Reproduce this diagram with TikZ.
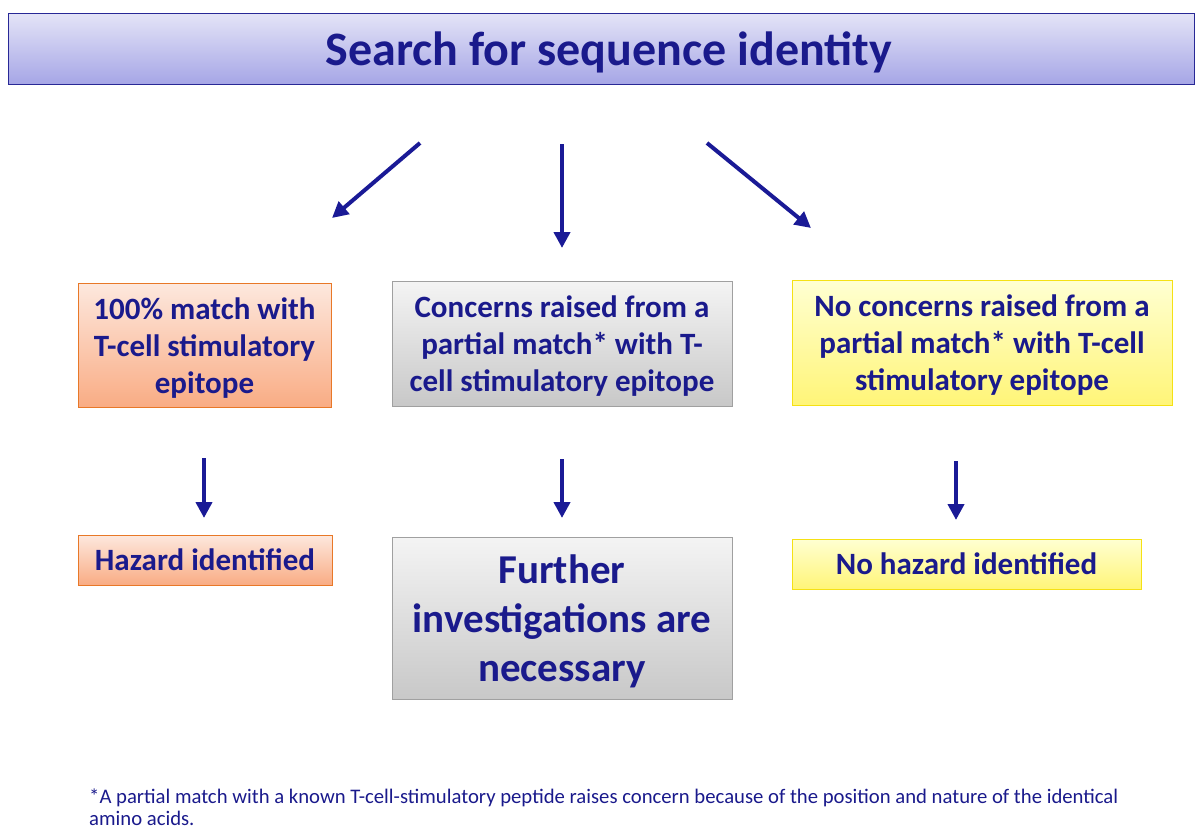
\documentclass[tikz,border=0pt]{standalone}
\usepackage{fontspec}
\setmainfont{Carlito}
\definecolor{txtblue}{RGB}{26,26,140}
\definecolor{arrblue}{RGB}{26,26,150}
\definecolor{titletop}{RGB}{228,228,247}
\definecolor{titlebot}{RGB}{166,166,230}
\definecolor{titleborder}{RGB}{40,40,150}
\definecolor{ortop}{RGB}{253,232,222}
\definecolor{orbot}{RGB}{249,172,132}
\definecolor{orborder}{RGB}{232,120,40}
\definecolor{grtop}{RGB}{244,244,244}
\definecolor{grbot}{RGB}{200,200,200}
\definecolor{grborder}{RGB}{160,160,160}
\definecolor{yetop}{RGB}{255,255,210}
\definecolor{yebot}{RGB}{255,245,120}
\definecolor{yeborder}{RGB}{245,225,20}
\newcommand{\dn}[1]{\raisebox{-3pt}[\height][\depth]{#1}}
\tikzset{
  box/.style={rectangle, line width=1pt, inner sep=0pt, align=center, text=txtblue, font=\bfseries\fontsize{31}{37}\selectfont},
  orbox/.style={box, draw=orborder, top color=ortop, bottom color=orbot},
  grbox/.style={box, draw=grborder, top color=grtop, bottom color=grbot},
  yebox/.style={box, draw=yeborder, top color=yetop, bottom color=yebot},
  arr/.style={draw=arrblue, line width=4pt, -{Triangle[length=16pt,width=16pt]}, shorten >=0pt}
}
\usetikzlibrary{arrows.meta}
\begin{document}
\begin{tikzpicture}[x=1pt,y=-1pt]
\useasboundingbox (0,0) rectangle (1195,830);
\node[rectangle, draw=titleborder, line width=1pt, top color=titletop, bottom color=titlebot, minimum width=1186pt, minimum height=71pt, inner sep=0pt] (title) at (601.5,48.5) {};
\node[text=txtblue, inner sep=0pt, font=\bfseries\fontsize{48}{56}\selectfont] (titletext) at (609,52) {Search for sequence identity};

\node[orbox, minimum width=253pt, minimum height=124pt] (b1) at (204.5,345) {\dn{100\% match with}\\\dn{T-cell stimulatory}\\\dn{epitope}};
\node[grbox, minimum width=340pt, minimum height=125pt] (b2) at (562,343.5) {\dn{Concerns raised from a}\\\dn{partial match* with T-}\\\dn{cell stimulatory epitope}};
\node[yebox, minimum width=380pt, minimum height=125pt] (b3) at (982,342.5) {\dn{No concerns raised from a}\\\dn{partial match* with T-cell}\\\dn{stimulatory epitope}};

\node[orbox, minimum width=254pt, minimum height=50pt] (c1) at (205,560) {Hazard identified};
\node[grbox, minimum width=340pt, minimum height=162pt, font=\bfseries\fontsize{41}{49}\selectfont] (c2) at (562,618) {\dn{Further}\\\dn{investigations are}\\\dn{necessary}};
\node[yebox, minimum width=349pt, minimum height=50pt] (c3) at (966.5,564) {No hazard identified};

\coordinate (a1s) at (420,143); \coordinate (a1e) at (332,218);
\coordinate (a2s) at (562,144); \coordinate (a2e) at (562,248);
\coordinate (a3s) at (707,143); \coordinate (a3e) at (811,228);
\coordinate (m1s) at (204,458); \coordinate (m1e) at (204,518);
\coordinate (m2s) at (562,459); \coordinate (m2e) at (562,518);
\coordinate (m3s) at (956,461); \coordinate (m3e) at (956,520);
\draw[arr] (a1s) -- (a1e);
\draw[arr] (a2s) -- (a2e);
\draw[arr] (a3s) -- (a3e);
\draw[arr] (m1s) -- (m1e);
\draw[arr] (m2s) -- (m2e);
\draw[arr] (m3s) -- (m3e);

\node[anchor=north west, text=txtblue, align=left, inner sep=0pt, font=\fontsize{20.7}{22.5}\selectfont] (fn) at (89,788.5) {*A partial match with a known T-cell-stimulatory peptide raises concern because of the position and nature of the identical\\amino acids.};
\end{tikzpicture}
\end{document}
